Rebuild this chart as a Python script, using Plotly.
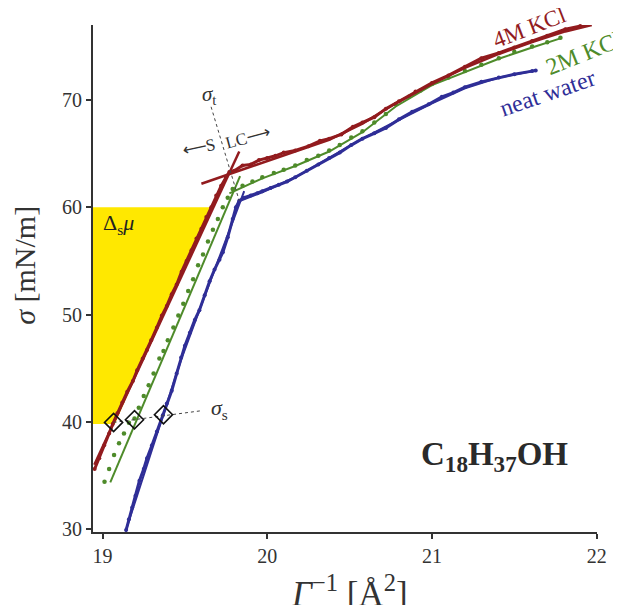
import plotly.graph_objects as go

# ---------------- data ----------------
# 4M KCl measured isotherm
red_x = [18.952, 18.98, 19.01, 19.04, 19.062, 19.09, 19.12, 19.15, 19.184, 19.21, 19.244, 19.27,
         19.295, 19.33, 19.36, 19.39, 19.42, 19.45, 19.48, 19.51, 19.54, 19.57, 19.60, 19.63,
         19.66, 19.69, 19.72, 19.75, 19.77, 19.80, 19.85, 19.90, 19.95, 20.00, 20.05, 20.10,
         20.17, 20.25, 20.32, 20.376, 20.45, 20.52, 20.578, 20.65, 20.72, 20.80, 20.90, 21.00,
         21.10, 21.20, 21.30, 21.406, 21.50, 21.608, 21.70, 21.81, 21.90, 21.98]
red_y = [35.6, 36.6, 37.8, 38.9, 39.8, 40.8, 41.8, 42.8, 43.8, 44.8, 45.9, 46.7,
         47.6, 48.8, 49.9, 50.8, 51.9, 52.8, 54.0, 55.0, 56.0, 57.1, 58.0, 59.1,
         60.0, 61.1, 62.0, 62.8, 63.3, 63.4, 63.9, 64.0, 64.4, 64.6, 64.8, 65.1,
         65.3, 65.7, 66.2, 66.4, 66.8, 67.5, 67.9, 68.4, 69.2, 69.9, 70.8, 71.6,
         72.3, 73.1, 73.9, 74.4, 74.9, 75.5, 76.0, 76.6, 76.9, 77.2]

# 2M KCl measured isotherm
grn_x = [19.012, 19.04, 19.07, 19.10, 19.13, 19.16, 19.194, 19.22, 19.25, 19.28, 19.31, 19.345,
         19.37, 19.396, 19.43, 19.46, 19.49, 19.52, 19.55, 19.58, 19.61, 19.64, 19.67, 19.70,
         19.73, 19.76, 19.79, 19.85, 19.91, 19.97, 20.04, 20.10, 20.17, 20.24, 20.31, 20.376,
         20.44, 20.51, 20.578, 20.65, 20.72, 20.78, 20.86, 20.93, 21.00, 21.10, 21.20, 21.30,
         21.406, 21.50, 21.608, 21.70, 21.78]
grn_y = [34.4, 35.6, 36.9, 38.0, 38.9, 39.9, 40.3, 41.3, 42.4, 43.4, 44.5, 45.9,
         46.6, 47.6, 48.8, 49.9, 51.0, 52.2, 53.3, 54.6, 55.6, 56.8, 57.9, 58.9,
         60.0, 60.9, 61.7, 62.0, 62.4, 62.8, 63.2, 63.5, 63.9, 64.4, 64.8, 65.3,
         65.8, 66.5, 67.1, 67.9, 68.7, 69.6, 70.3, 70.9, 71.5, 72.1, 72.7, 73.3,
         73.9, 74.5, 75.0, 75.4, 75.8]

# neat water measured isotherm
blu_x = [19.143, 19.16, 19.18, 19.20, 19.224, 19.25, 19.27, 19.30, 19.33, 19.366, 19.39, 19.42,
         19.45, 19.477, 19.50, 19.53, 19.56, 19.588, 19.62, 19.65, 19.68, 19.71, 19.73, 19.76,
         19.79, 19.81, 19.83, 19.86, 19.90, 19.94, 19.97, 20.02, 20.07, 20.12, 20.17, 20.24,
         20.31, 20.376, 20.44, 20.51, 20.578, 20.65, 20.72, 20.80, 20.88, 20.98, 21.06, 21.13,
         21.20, 21.30, 21.406, 21.50, 21.608, 21.63]
blu_y = [29.9, 30.9, 32.0, 33.1, 34.5, 35.6, 36.6, 37.8, 39.1, 40.6, 41.7, 42.9,
         44.5, 46.0, 47.1, 48.3, 49.5, 50.4, 51.8, 53.1, 54.2, 55.1, 55.8, 57.2,
         58.9, 60.0, 60.6, 60.9, 61.1, 61.3, 61.5, 61.8, 62.1, 62.4, 62.8, 63.4,
         64.0, 64.6, 65.1, 65.8, 66.4, 66.9, 67.4, 68.2, 68.9, 69.6, 70.3, 70.7,
         71.2, 71.7, 72.1, 72.4, 72.7, 72.75]

# fitted lines (S = solid phase, LC = liquid condensed)
red_fitS_x = [18.95, 19.83]
red_fitS_y = [36.0, 65.2]
red_fitLC_x = [19.60, 19.77, 19.97, 20.17, 20.376, 20.578, 20.78, 21.0, 21.2, 21.406, 21.608, 21.81, 21.97]
red_fitLC_y = [62.2, 63.1, 64.2, 65.2, 66.3, 67.8, 69.7, 71.5, 73.0, 74.3, 75.4, 76.4, 77.0]
grn_fitS_x = [19.047, 19.835]
grn_fitS_y = [34.35, 62.9]
grn_fitLC_x = [19.77, 19.97, 20.17, 20.376, 20.578, 20.78, 21.0, 21.2, 21.406, 21.608, 21.78]
grn_fitLC_y = [61.3, 62.7, 63.85, 65.2, 67.0, 69.4, 71.4, 72.6, 73.85, 74.9, 75.75]
blu_fitS_x = [19.14, 19.366, 19.477, 19.588, 19.73, 19.86]
blu_fitS_y = [29.8, 40.4, 45.8, 50.4, 56.2, 61.5]
blu_fitLC_x = [19.82, 19.97, 20.17, 20.376, 20.578, 20.78, 21.0, 21.2, 21.406, 21.63]
blu_fitLC_y = [60.5, 61.4, 62.8, 64.6, 66.4, 68.0, 69.7, 71.1, 72.1, 72.75]

# solidification points sigma_s
sig_s_x = [19.067, 19.194, 19.37]
sig_s_y = [39.94, 40.19, 40.66]
sig_s_line_x = [19.067, 19.60]
sig_s_line_y = [39.94, 41.03]
# transition line sigma_t
sig_t_line_x = [19.659, 19.83]
sig_t_line_y = [69.37, 60.6]
# Delta_s mu shaded area
fill_x = [18.942, 19.655, 19.075, 18.942, 18.942]
fill_y = [60.0, 60.0, 39.8, 39.8, 60.0]

x_ticks = [19, 20, 21, 22]
y_ticks = [30, 40, 50, 60, 70]

RED = "#921b1e"
GRN = "#4e8b2a"
BLU = "#2f2e97"
SERIF = "Liberation Serif, Times New Roman, serif"

fig = go.Figure()
fig.add_trace(go.Scatter(x=fill_x, y=fill_y, fill="toself", fillcolor="#ffe800",
                         line=dict(width=0), mode="lines", hoverinfo="skip"))
# data
fig.add_trace(go.Scatter(x=blu_x, y=blu_y, mode="lines+markers",
                         line=dict(color=BLU, width=3), marker=dict(color=BLU, size=4)))
fig.add_trace(go.Scatter(x=blu_fitS_x, y=blu_fitS_y, mode="lines", line=dict(color=BLU, width=2)))
fig.add_trace(go.Scatter(x=blu_fitLC_x, y=blu_fitLC_y, mode="lines", line=dict(color=BLU, width=2)))
fig.add_trace(go.Scatter(x=grn_x, y=grn_y, mode="markers", marker=dict(color=GRN, size=4.5)))
fig.add_trace(go.Scatter(x=grn_fitS_x, y=grn_fitS_y, mode="lines", line=dict(color=GRN, width=2)))
fig.add_trace(go.Scatter(x=grn_fitLC_x, y=grn_fitLC_y, mode="lines", line=dict(color=GRN, width=2)))
fig.add_trace(go.Scatter(x=red_x, y=red_y, mode="lines+markers", cliponaxis=False,
                         line=dict(color=RED, width=3), marker=dict(color=RED, size=4)))
fig.add_trace(go.Scatter(x=red_fitS_x, y=red_fitS_y, mode="lines", line=dict(color=RED, width=2.5)))
fig.add_trace(go.Scatter(x=red_fitLC_x, y=red_fitLC_y, mode="lines", line=dict(color=RED, width=2.5)))
# dotted guide lines
fig.add_trace(go.Scatter(x=sig_t_line_x, y=sig_t_line_y, mode="lines",
                         line=dict(color="#444", width=1, dash="dot")))
fig.add_trace(go.Scatter(x=sig_s_line_x, y=sig_s_line_y, mode="lines",
                         line=dict(color="#444", width=1, dash="dot")))
fig.add_trace(go.Scatter(x=sig_s_x, y=sig_s_y, mode="markers",
                         marker=dict(symbol="diamond-open", size=14, color="#111",
                                     line=dict(width=1.6, color="#111"))))

def ann(text, x, y, size, color="#222", angle=0, xanchor="center", yanchor="middle", xref="x", yref="y"):
    fig.add_annotation(text=text, x=x, y=y, xref=xref, yref=yref, showarrow=False,
                       textangle=angle, xanchor=xanchor, yanchor=yanchor,
                       font=dict(family=SERIF, size=size, color=color))

ann("4M KCl", 0.866, 0.996, 23, RED, -21, xref="paper", yref="paper")
ann("2M KCl", 0.975, 0.945, 24, GRN, -22, xref="paper", yref="paper")
ann("neat water", 0.902, 0.865, 24, BLU, -19, xref="paper", yref="paper")
ann("<i>σ</i><sub>t</sub>", 19.645, 70.5, 21, "#333")
ann("⟵S", 19.585, 65.6, 17, "#333", -12)
ann("LC⟶", 19.885, 66.5, 17, "#333", -15)
ann("<i>σ</i><sub>s</sub>", 19.645, 41.2, 22, "#333", xanchor="left")
ann("Δ<sub>s</sub><i>μ</i>", 19.095, 58.4, 22, "#222")
ann("<b>C<sub>18</sub>H<sub>37</sub>OH</b>", 21.38, 36.8, 33, "#2a2a2a")
# axis titles
ann("<i>σ</i> [mN/m]", -0.135, 0.527, 30, "#333", -90, xref="paper", yref="paper")
ann("<i>Γ</i><sup>−1</sup> [Å<sup>2</sup>]", 0.508, -0.069, 35, "#333", yanchor="top",
    xref="paper", yref="paper")

axis_common = dict(showgrid=False, zeroline=False, showline=True, linecolor="#333", linewidth=2,
                   ticks="outside", ticklen=5, tickwidth=1.5, tickcolor="#333",
                   tickfont=dict(family=SERIF, size=20, color="#333"))
fig.update_xaxes(range=[18.942, 22.002], tickvals=x_ticks, **axis_common)
fig.update_yaxes(range=[29.72, 77.0], tickvals=y_ticks, **axis_common)
# the page body adds an 8px offset, so the figure is 8px smaller than the window
fig.update_layout(width=613, height=597, margin=dict(l=85, r=24, t=17, b=73),
                  plot_bgcolor="white", paper_bgcolor="white", showlegend=False)

fig.write_html("out.html")
